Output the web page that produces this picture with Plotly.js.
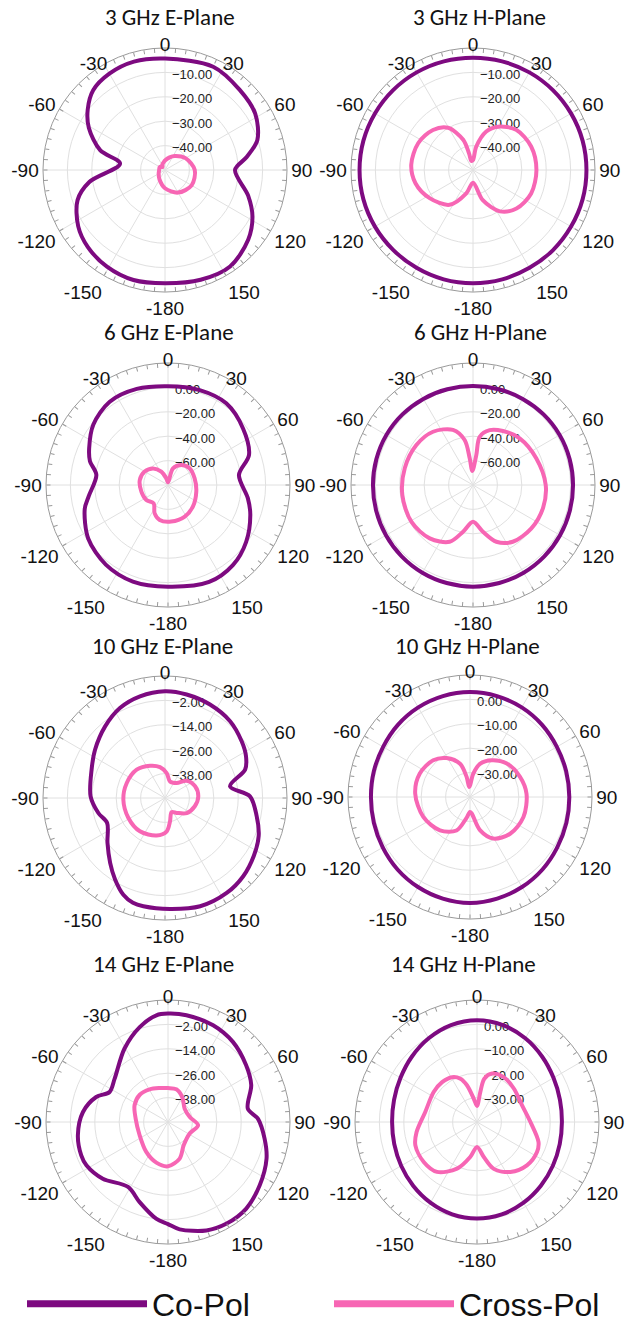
<!DOCTYPE html>
<html>
<head>
<meta charset="utf-8">
<script src="https://cdn.plot.ly/plotly-3.0.1.min.js"></script>
<style>html,body{margin:0;padding:0;background:#fff;}#chart{width:629px;height:1326px;}</style>
</head>
<body>
<div id="chart"></div>
<script>
// ---------- DATA (angles in degrees, values in dB) ----------
const titles = ["3 GHz E-Plane","3 GHz H-Plane","6 GHz E-Plane","6 GHz H-Plane",
                "10 GHz E-Plane","10 GHz H-Plane","14 GHz E-Plane","14 GHz H-Plane"];
const angTickVals = [0,30,60,90,120,150,180,210,240,270,300,330];
const angTickText = ["0","30","60","90","120","150","-180","-150","-120","-90","-60","-30"];

const radRanges = [[-50,0],[-50,0],[-80,20],[-80,20],[-50,10],[-40,10],[-50,10],[-40,10]];
const radTicks = [[-10,-20,-30,-40],[-10,-20,-30,-40],[0,-20,-40,-60],[0,-20,-40,-60],
                  [-2,-14,-26,-38],[0,-10,-20,-30],[-2,-14,-26,-38],[0,-10,-20,-30]];

// 3 GHz E-Plane
const e3CoTheta = [0,25,43,58,72,81,90,107,118,130,146,162,180,-164,-149,-135,-123,-109,-99,-82,-73,-61,-52,-42,-30,-16];
const e3CoR = [-4.3,-3.3,-5.1,-6.4,-10.2,-16.1,-21.3,-14.4,-9.4,-5.5,-2.3,-2.7,-3.6,-3.1,-3.8,-5.3,-7.6,-12.1,-18.6,-31.4,-22.2,-14.3,-9.8,-6.0,-4.4,-3.8];
const e3XTheta = [0,20,35,60,90,120,150,180,210,240,270,300,320,335,350];
const e3XR = [-46.1,-44.5,-43.0,-40.3,-37.8,-37.4,-39.3,-42.5,-45.5,-47.0,-47.6,-47.5,-48.4,-47.5,-46.8];

// 3 GHz H-Plane
const h3CoTheta = [0,15,30,45,60,75,90,105,120,135,150,165,180,195,210,225,240,255,270,285,300,315,330,345];
const h3CoR = [-4.0,-3.9,-3.8,-3.7,-3.6,-3.5,-3.5,-3.5,-3.6,-3.6,-3.7,-3.6,-3.6,-3.6,-3.7,-3.7,-3.6,-3.5,-3.5,-3.5,-3.6,-3.7,-3.8,-3.9];
const h3XTheta = [0,8,19,30,47,68,90,112,131.5,147,162,180,196,214,237,257,275,296,315,329.4,342,346.5,350];
const h3XR = [-45.9,-40.3,-33.3,-29.5,-25.8,-24.3,-24.0,-24.3,-26.2,-29.8,-37.0,-44.8,-40.0,-32.8,-28.8,-25.8,-24.6,-25.0,-26.8,-29.9,-37.0,-43.0,-46.2];

// 6 GHz E-Plane
const e6CoTheta = [0,18,35.5,53,69.7,82,99.5,110,126,141,157,180,-160,-142,-124,-106,-98,-82,-73,-65,-51,-35,-18];
const e6CoR = [1.0,2.0,2.2,-3.0,-9.2,-21.3,-13.6,-8.2,-0.8,4.5,6.3,3.3,4.2,2.8,-1.2,-9.0,-14.4,-20.7,-13.1,-8.7,-1.3,3.3,2.8];
const e6XTheta = [0,16.7,33.7,52,76,103,131,152,175,-166.6,-154.8,-142,-124.7,-104,-80,-60,-42,-26.6,-14];
const e6XR = [-77.8,-65.8,-60.3,-57.6,-57.5,-56.2,-53.0,-50.7,-49.9,-50.5,-54.3,-60.9,-58.4,-57.5,-56.5,-57.9,-61.7,-67.7,-74.3];

// 6 GHz H-Plane
const h6CoTheta = [0,15,30,45,60,75,90,105,120,135,150,165,180,195,210,225,240,255,270,285,300,315,330,345];
const h6CoR = [1.1,1.2,1.5,1.8,2.0,2.0,2.0,2.1,2.4,2.7,3.0,3.2,3.3,3.2,3.0,2.7,2.4,2.1,2.0,2.0,2.0,1.8,1.5,1.2];
const h6XTheta = [-2.7,6.3,7.9,16.9,29,45,67,90,108,126.6,145,157.6,168,180,192,202.4,219,239,262,284,305.2,323.1,340,349.5,353];
const h6XR = [-68.5,-55.1,-40.1,-33.0,-29.4,-25.9,-23.7,-20.4,-19.6,-20.4,-23.2,-29.7,-40.9,-49.9,-40.9,-29.7,-23.7,-21.2,-21.5,-22.4,-23.2,-25.4,-31.9,-42.5,-57.9];

// 10 GHz E-Plane
const e10CoTheta = [0,11.8,25.7,40.3,53.5,62.8,70.5,79.8,88.9,101,112,123,135,147,162,177.4,-168.7,-163,-156.7,-148.5,-139.8,-128,-113.4,-102.7,-88.7,-68.9,-55.4,-39.9,-26.6,-13.8];
const e10CoR = [2.5,2.0,1.0,-0.5,-3.1,-5.2,-8.2,-17.5,-8.2,-4.1,-0.3,2.1,4.4,5.7,6.0,4.6,4.3,3.9,1.8,-3.0,-8.2,-14.1,-19.0,-16.4,-13.4,-11.3,-8.2,-4.1,-0.5,1.5];
const e10XTheta = [3.8,16.7,37.9,51.3,68.7,87,105.5,124.7,142,155,168,177,-167.4,-143,-118.6,-92,-68.6,-45,-24.9,-9.2];
const e10XR = [-37.7,-41.5,-40.7,-36.4,-34.1,-33.6,-34.8,-37.0,-40.7,-42.3,-38.2,-33.6,-31.1,-29.5,-29.5,-29.5,-29.8,-30.3,-32.5,-34.6];

// 10 GHz H-Plane
const h10CoTheta = [0,15,30,45,60,75,90,105,120,135,150,165,180,195,210,225,240,255,270,285,300,315,330,345];
const h10CoR = [3.0,2.8,2.4,1.8,1.1,0.8,0.7,0.9,1.3,2.0,2.6,3.1,3.4,3.1,2.6,2.0,1.3,0.8,0.6,0.8,1.1,1.8,2.4,2.8];
const h10XTheta = [-4,8,16.7,30.6,47.7,68,86.6,110.6,132.5,150.8,163.3,174,180,190,202,222,247,273.5,295,315,329,343.3,350.5];
const h10XR = [-35.9,-30.3,-25.8,-22.5,-19.6,-17.9,-16.8,-16.6,-17.7,-20.5,-25.8,-33.2,-33.9,-31.1,-25.2,-21.6,-19.2,-17.5,-17.3,-18.7,-21.4,-25.8,-31.7];

// 14 GHz E-Plane
const e14CoTheta = [0,9.8,25,39,54,66,80.5,88,99.8,110.4,124.6,137.9,150,160.5,173.8,180,-173,-160.5,-148.4,-131,-117.9,-111,-98.4,-83.3,-70.8,-62.8,-50.9,-30.6,-16.6,-6.2];
const e14CoR = [3.3,3.3,2.5,0.7,-2.5,-5.2,-10.2,-5.7,-1.8,1.7,4.8,7.4,7.7,6.6,3.1,0.2,-2.1,-8.2,-12.5,-7.5,-4.6,-4.3,-5.2,-7.9,-12.6,-17.7,-16.2,-8.0,-1.3,2.8];
const e14XTheta = [0,14.3,29.8,51.3,77,96.3,118,146,162.3,180,-164,-144,-115,-84,-63.4,-46,-29.3,-13.8];
const e14XR = [-33.3,-33.4,-35.9,-39.5,-39.0,-35.1,-37.9,-36.2,-31.1,-28.2,-29.2,-31.8,-34.6,-34.0,-31.6,-30.7,-31.6,-32.8];

// 14 GHz H-Plane
const h14CoTheta = [0,15,30,45,60,75,90,105,120,135,150,165,180,195,210,225,240,255,270,285,300,315,330,345];
const h14CoR = [1.7,1.1,-0.4,-2.2,-3.8,-4.8,-5.2,-4.9,-4.1,-3.0,-1.8,-0.8,-0.4,-0.8,-1.8,-3.0,-4.1,-4.9,-5.2,-4.8,-3.8,-2.2,-0.4,1.1];
const h14XTheta = [0,6.3,9.6,17.2,30.7,47.7,69.7,90,108,116.6,131,146.3,160.3,169,180,-169,-156.8,-141.3,-126.9,-110.7,-99.4,-79,-55.3,-41.2,-29,-21,-15.3,-8];
const h14XR = [-33.4,-27.6,-22.0,-19.2,-18.6,-19.6,-20.3,-18.1,-13.5,-12.5,-12.9,-15.4,-19.6,-25.4,-29.8,-25.4,-19.2,-13.8,-12.7,-13.0,-14.9,-18.4,-18.4,-18.3,-19.0,-21.0,-24.4,-30.3];

const coSeries = [[e3CoTheta,e3CoR],[h3CoTheta,h3CoR],[e6CoTheta,e6CoR],[h6CoTheta,h6CoR],
                  [e10CoTheta,e10CoR],[h10CoTheta,h10CoR],[e14CoTheta,e14CoR],[h14CoTheta,h14CoR]];
const xSeries = [[e3XTheta,e3XR],[h3XTheta,h3XR],[e6XTheta,e6XR],[h6XTheta,h6XR],
                 [e10XTheta,e10XR],[h10XTheta,h10XR],[e14XTheta,e14XR],[h14XTheta,h14XR]];
const seriesNames = ["Co-Pol","Cross-Pol"];

// ---------- LAYOUT / STYLE ----------
const W = 629, H = 1326, RAD = 122, TOP_LABEL_INSET = 7;
const centers = [[165,170],[473,170],[168,485],[473,485],[165,798],[470,797],[168,1122],[477,1122]];
const titlePos = [[170,17],[479,17],[169,332],[480,332],[162,646],[467,646],[163,964],[463,964]];
const CO_COLOR = "#7d0a80", X_COLOR = "#f766b4";
const TICK_FONT = "Liberation Sans, Arial, sans-serif";
const minorTicks = [];
for (let a = 0; a < 360; a += 5) minorTicks.push(a);
const topLabelIdx = [0, 1, 11];              // 0, 30, -30 are drawn slightly closer to the rim
const lowerText = angTickText.map((s, k) => topLabelIdx.includes(k) ? "" : s);

function closed(arr){ return arr.concat([arr[0]]); }
function domainFor(cx, cy, rad){
  return { x: [(cx - rad) / W, (cx + rad) / W], y: [1 - (cy + rad) / H, 1 - (cy - rad) / H] };
}
function pid(n){ return n === 1 ? "polar" : "polar" + n; }

const traces = [];
const layout = {
  width: W, height: H,
  margin: {l:0, r:0, t:0, b:0, pad: 0, autoexpand: false},
  paper_bgcolor: "#fff",
  showlegend: true,
  legend: {
    orientation: "h", x: 0.035, xanchor: "left", y: 1 - 1304/H, yanchor: "middle",
    font: {family: TICK_FONT, size: 32, color: "#111"},
    entrywidth: 172, entrywidthmode: "pixels", itemwidth: 120,
    bgcolor: "rgba(0,0,0,0)"
  },
  annotations: []
};

titles.forEach((t, i) => {
  const [cx, cy] = centers[i];
  const baseId = pid(3*i+1), tickId = pid(3*i+2), labId = pid(3*i+3);
  layout[baseId] = {
    domain: domainFor(cx, cy, RAD), bgcolor: "#fff",
    angularaxis: {
      rotation: 90, direction: "clockwise",
      tickmode: "array", tickvals: angTickVals, ticktext: lowerText,
      showgrid: true, gridcolor: "#e0e0e0", gridwidth: 1,
      showline: true, linecolor: "#9a9a9a", linewidth: 1,
      ticks: "",
      tickfont: {family: TICK_FONT, size: 19, color: "#111"}
    },
    radialaxis: {
      range: radRanges[i], angle: 90, side: "clockwise",
      tickmode: "array", tickvals: radTicks[i], tickformat: ".2f",
      showgrid: true, gridcolor: "#e0e0e0", gridwidth: 1,
      showline: false, ticks: "", layer: "below traces",
      tickfont: {family: TICK_FONT, size: 13, color: "#222"}
    }
  };
  layout[tickId] = {
    domain: domainFor(cx, cy, RAD), bgcolor: "rgba(0,0,0,0)",
    angularaxis: {
      rotation: 90, direction: "clockwise",
      tickmode: "array", tickvals: minorTicks, showticklabels: false,
      showgrid: false, showline: false,
      ticks: "inside", ticklen: 4, tickcolor: "#9a9a9a", tickwidth: 1
    },
    radialaxis: {range: radRanges[i], visible: false}
  };
  layout[labId] = {
    domain: domainFor(cx, cy, RAD - TOP_LABEL_INSET), bgcolor: "rgba(0,0,0,0)",
    angularaxis: {
      rotation: 90, direction: "clockwise",
      tickmode: "array", tickvals: topLabelIdx.map(k => angTickVals[k]),
      ticktext: topLabelIdx.map(k => angTickText[k]),
      showgrid: false, showline: false, ticks: "",
      tickfont: {family: TICK_FONT, size: 19, color: "#111"}
    },
    radialaxis: {range: radRanges[i], visible: false}
  };
  traces.push({
    type: "scatterpolar", subplot: baseId, mode: "lines",
    theta: closed(coSeries[i][0]), r: closed(coSeries[i][1]),
    line: {color: CO_COLOR, width: 4, shape: "spline", smoothing: 0.9},
    name: seriesNames[0], showlegend: false, hoverinfo: "skip"
  });
  traces.push({
    type: "scatterpolar", subplot: baseId, mode: "lines",
    theta: closed(xSeries[i][0]), r: closed(xSeries[i][1]),
    line: {color: X_COLOR, width: 4, shape: "spline", smoothing: 0.9},
    name: seriesNames[1], showlegend: false, hoverinfo: "skip"
  });
  // legend carriers (no drawn data); they also make the overlay subplots render
  [[tickId, CO_COLOR, 0], [labId, X_COLOR, 1]].forEach(([sp, col, k]) => {
    traces.push({
      type: "scatterpolar", subplot: sp, mode: "lines",
      theta: [null], r: [null],
      line: {color: col, width: 7},
      name: seriesNames[k], showlegend: i === 0, hoverinfo: "skip"
    });
  });
  layout.annotations.push({
    text: t, xref: "paper", yref: "paper",
    x: titlePos[i][0] / W, y: 1 - titlePos[i][1] / H,
    xanchor: "center", yanchor: "middle", showarrow: false,
    font: {family: "Carlito, Lato, sans-serif", size: 23, color: "#111"}
  });
});

Plotly.newPlot("chart", traces, layout, {staticPlot: true, displayModeBar: false});
</script>
</body>
</html>
